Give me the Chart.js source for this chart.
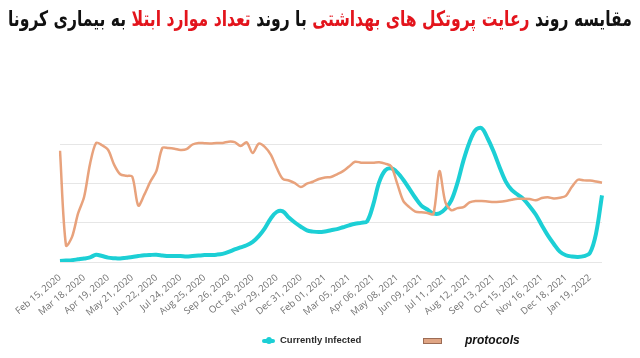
<!DOCTYPE html>
<html>
<head>
<meta charset="utf-8">
<script src="https://cdn.jsdelivr.net/npm/chart.js@4"></script>
<style>
  html, body { margin: 0; padding: 0; background: #fff; }
  #wrap { position: relative; width: 640px; height: 358px; overflow: hidden; }
  #titleText {
    position: absolute; top: 6px; left: 320px; white-space: nowrap;
    direction: rtl; transform-origin: 0 0;
    font-family: "DejaVu Sans", sans-serif; font-weight: bold; font-size: 19px;
    color: #111;
  }
  #titleText .red { color: #e3141c; }
  #legend { position: absolute; top: 330px; left: 0; width: 640px; height: 24px; }
  .leg { position: absolute; white-space: nowrap; }
</style>
</head>
<body>
<div id="wrap">
  <span id="titleText">مقایسه روند <span class="red">رعایت پروتکل های بهداشتی</span> با روند <span class="red">تعداد موارد ابتلا</span> به بیماری کرونا</span>
  <canvas id="chart" width="640" height="358"></canvas>
  <div id="legend">
    <div class="leg" style="left:262px;top:9px;width:13px;height:4px;background:#1ccfd5;border-radius:2px;"></div>
    <div class="leg" style="left:266px;top:7px;width:6px;height:7px;background:#1ccfd5;border-radius:50%;"></div>
    <div class="leg" style="left:280px;top:4px;font:bold 9.5px 'Liberation Sans',sans-serif;color:#2b2b2b;">Currently Infected</div>
    <div class="leg" style="left:423px;top:8px;width:17px;height:4px;background:#e0a584;border:1px solid #9c6c55;"></div>
    <div class="leg" style="left:465px;top:3px;font:italic bold 12px 'Liberation Sans',sans-serif;color:#111;">protocols</div>
  </div>
</div>
<script>
// x-axis labels, one every 4 points (points are ~8 days apart)
var tickLabels = ["Feb 15, 2020", "Mar 18, 2020", "Apr 19, 2020", "May 21, 2020", "Jun 22, 2020",
  "Jul 24, 2020", "Aug 25, 2020", "Sep 26, 2020", "Oct 28, 2020", "Nov 29, 2020", "Dec 31, 2020",
  "Feb 01, 2021", "Mar 05, 2021", "Apr 06, 2021", "May 08, 2021", "Jun 09, 2021", "Jul 11, 2021",
  "Aug 12, 2021", "Sep 13, 2021", "Oct 15, 2021", "Nov 16, 2021", "Dec 18, 2021", "Jan 19, 2022"];
var pointsPerTick = 4;

// currently infected (relative scale)
var infected = [0.6, 0.9, 1.2, 1.7, 2.2, 3, 4.6, 3.8, 2.8, 2.4,
  2.2, 2.7, 3.2, 3.8, 4.3, 4.5, 4.6, 4.2, 3.8, 3.8,
  3.8, 3.5, 3.8, 4.1, 4.4, 4.5, 4.7, 5.2, 6.4, 8,
  9.4, 10.7, 12.8, 16.5, 21.5, 27.8, 32, 32.3, 28.4, 25.2,
  22.5, 20.2, 19.4, 19.1, 19.5, 20.3, 21, 22.2, 23.4, 24.4,
  25, 26, 36.5, 51, 58.5, 59.8, 57.2, 52.5, 46.8, 41,
  36, 33.5, 31, 31, 34, 39.5, 50.5, 64.9, 76.5, 84.2,
  85.5, 79, 70.5, 60.5, 51.5, 46, 43, 40, 35.5, 30.3,
  23.5, 17, 11.5, 6.6, 4.3, 3.5, 3.2, 3.7, 5.8, 18,
  42.5];

// protocol compliance (relative scale)
var protocols = [71, 10.5, 16, 31, 41.5, 62.8, 76, 74.5, 71.5, 62,
  56, 55, 54.5, 36, 43, 51.3, 58, 72.8, 72.7, 72.3,
  71.5, 72, 75, 76, 75.8, 75.7, 76, 76, 76.8, 76.5,
  74, 76.4, 69.5, 75.5, 73.5, 68.5, 60, 53, 52, 50.3,
  47.8, 50, 51.2, 53, 54, 54.3, 56, 58, 61, 64,
  63.4, 63.4, 63.4, 63.7, 62.8, 61, 50, 39, 35, 32.2,
  31.7, 31.3, 30.6, 58, 38, 33, 34.4, 35, 38, 38.9,
  38.9, 38.6, 38.3, 38.5, 39, 39.7, 40.3, 40.4, 40.2, 39.4,
  40.8, 41.3, 40.6, 41, 42.2, 48, 52.5, 52.1, 52, 51.4,
  50.6];

// squeeze the title so it spans x 8..632 as in the picture
var titleText = document.getElementById("titleText");
var tw = titleText.offsetWidth;
titleText.style.transform = "translateX(-312px) scale(" + (624 / tw) + ", 1.12)";

var labels = [];
for (var i = 0; i < infected.length; i++) {
  labels.push(i % pointsPerTick === 0 && tickLabels[i / pointsPerTick] ? tickLabels[i / pointsPerTick] : "");
}

var ctx = document.getElementById("chart");

var data = {
  labels: labels,
  datasets: [
    {
      label: "Currently Infected",
      data: infected,
      borderColor: "#1ccfd5",
      backgroundColor: "#1ccfd5",
      borderWidth: 4,
      pointRadius: 0,
      tension: 0.35,
      order: 2
    },
    {
      label: "protocols",
      data: protocols,
      borderColor: "#e8a27c",
      backgroundColor: "#e0a584",
      borderWidth: 2.5,
      pointRadius: 0,
      tension: 0.3,
      order: 1
    }
  ]
};

var options = {
  responsive: false,
  animation: false,
  layout: { padding: { left: 60, right: 38, top: 121, bottom: 0 } },
  plugins: {
    legend: { display: false },
    title: { display: false },
    tooltip: { enabled: false }
  },
  scales: {
    x: {
      grid: { display: false },
      border: { display: false },
      ticks: {
        autoSkip: false,
        minRotation: 40,
        maxRotation: 40,
        padding: 2,
        color: "#707070",
        font: { family: "'Open Sans', sans-serif", size: 9.5 }
      },
      afterFit: function(scale) { scale.height = 96; }
    },
    y: {
      min: 0,
      max: 90,
      border: { display: false },
      grid: {
        drawTicks: false,
        color: function(c) {
          return c.tick && c.tick.value % 25 === 0 ? "#e6e6e6" : "rgba(0,0,0,0)";
        }
      },
      ticks: { display: false, stepSize: 25 },
      afterFit: function(scale) { scale.width = 0; }
    }
  }
};

var chart = new Chart(ctx, {
  type: "line",
  data: data,
  options: options
});
</script>
</body>
</html>
